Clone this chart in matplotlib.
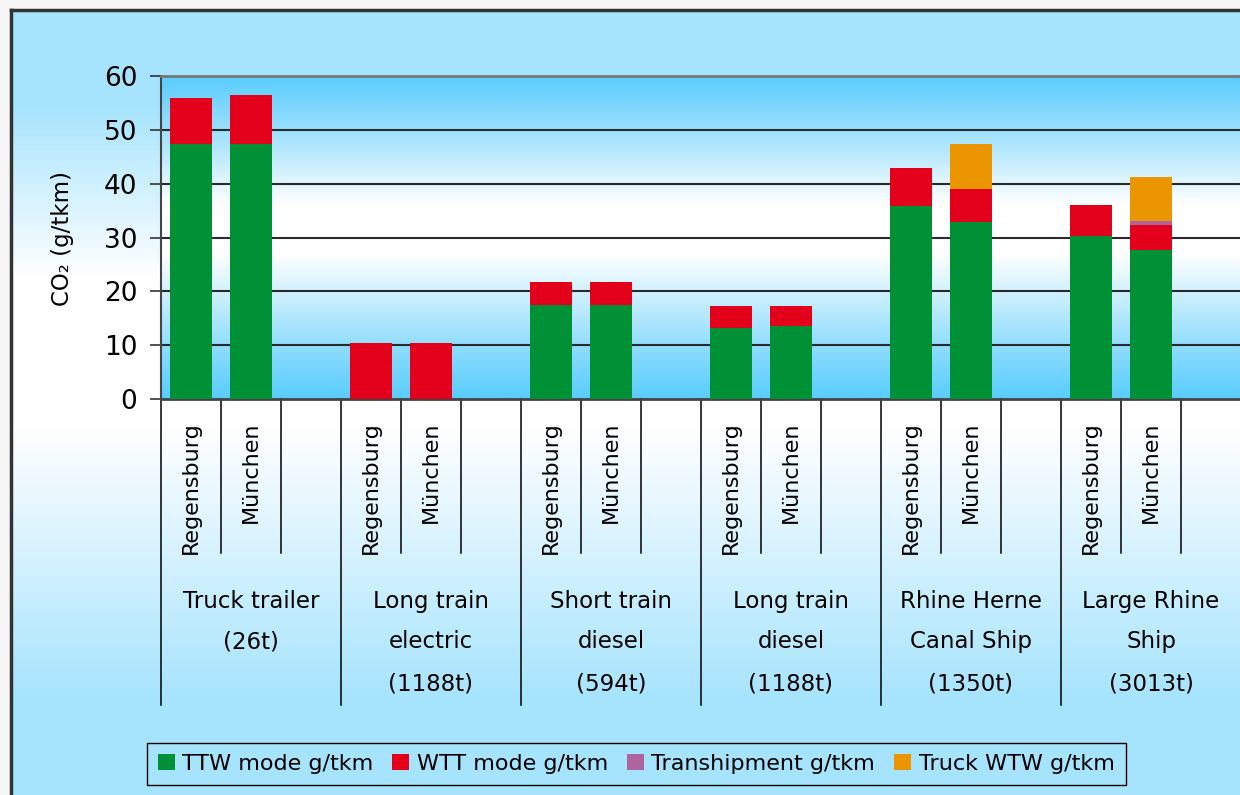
import numpy as np
import matplotlib
matplotlib.use('Agg')
import matplotlib.pyplot as plt
from matplotlib.colors import LinearSegmentedColormap
from matplotlib.patches import Patch
from matplotlib.lines import Line2D
import matplotlib.transforms as mtransforms

# data
groups = ['Truck trailer\n(26t)', 'Long train\nelectric\n(1188t)', 'Short train\ndiesel\n(594t)',
          'Long train\ndiesel\n(1188t)', 'Rhine Herne\nCanal Ship\n(1350t)', 'Large Rhine\nShip\n(3013t)']
cities = ['Regensburg', 'München']

# one value per bar: (group, city) in order
ttw = [47.4, 47.4, 0.0, 0.0, 17.5, 17.5, 13.2, 13.6, 35.9, 32.8, 30.2, 27.6]
wtt = [8.6, 9.0, 10.4, 10.4, 4.3, 4.3, 4.0, 3.6, 7.1, 6.3, 5.9, 4.8]
tranship = [0, 0, 0, 0, 0, 0, 0, 0, 0, 0, 0, 0.6]
truck = [0, 0, 0, 0, 0, 0, 0, 0, 0, 8.2, 0, 8.2]

series_names = ['TTW mode g/tkm', 'WTT mode g/tkm', 'Transhipment g/tkm', 'Truck WTW g/tkm']
colors = ['#009035', '#e2001a', '#b0649f', '#eb9500']

plt.rcParams['font.family'] = 'DejaVu Sans'

fig = plt.figure(figsize=(12.4, 7.95), dpi=100, facecolor='#f7f7f7')

# figure background gradient (blue - white - blue)
x0 = 11 / 1240
y1 = 1 - 10 / 795
bg = fig.add_axes([x0, 0, 1 - x0, y1], zorder=-10)
bg_cmap = LinearSegmentedColormap.from_list('bg', [
    (0.0, '#a6e4fd'), (0.12, '#a6e4fd'), (0.47, '#ffffff'), (0.66, '#ffffff'),
    (0.88, '#a6e4fd'), (1.0, '#a6e4fd')])
bg.imshow(np.linspace(0, 1, 256).reshape(-1, 1), cmap=bg_cmap, aspect='auto',
          origin='lower', extent=[0, 1, 0, 1])
bg.axis('off')

# frame lines
fig.add_artist(Line2D([x0, 1], [y1, y1], color='#333333', lw=2.5))
fig.add_artist(Line2D([x0, x0], [0, y1], color='#333333', lw=2.5))

ax = fig.add_axes([161 / 1240, 1 - 399 / 795, 1080 / 1240, 323 / 795])
ax.patch.set_alpha(0)

plot_cmap = LinearSegmentedColormap.from_list('pl', [
    (0.0, '#5acdfd'), (0.12, '#80d8fd'), (0.45, '#ffffff'), (0.6, '#ffffff'),
    (0.88, '#88dafd'), (1.0, '#5acdfd')])
nslots = 3 * len(groups)
ax.imshow(np.linspace(0, 1, 256).reshape(-1, 1), cmap=plot_cmap, aspect='auto',
          origin='lower', extent=[0, nslots, 0, 60], zorder=0)

# bars
pos = []
for g in range(len(groups)):
    for c in range(len(cities)):
        pos.append(3 * g + c + 0.5)
pos = np.array(pos)
bottom = np.zeros(len(pos))
for vals, col in zip([ttw, wtt, tranship, truck], colors):
    vals = np.array(vals)
    ax.bar(pos, vals, width=0.7, bottom=bottom, color=col, zorder=3)
    bottom += vals

ax.set_xlim(0, nslots)
ax.set_ylim(0, 60)
ax.set_yticks(range(0, 61, 10))
for yv in range(10, 60, 10):
    ax.axhline(yv, color='#2a2a2a', lw=1.5, zorder=1)

ax.spines['right'].set_visible(False)
ax.spines['top'].set_color('#777777')
ax.spines['top'].set_linewidth(2)
ax.spines['left'].set_color('#444444')
ax.spines['left'].set_linewidth(1.5)
ax.spines['bottom'].set_color('#444444')
ax.spines['bottom'].set_linewidth(2)

ax.tick_params(axis='y', length=8, width=1.2, color='#333333', pad=9, labelsize=19)
ax.set_xticks(range(0, nslots + 1))
ax.set_xticklabels([])
ax.tick_params(axis='x', length=0)

# category separators below the axis
trans = mtransforms.blended_transform_factory(ax.transData, ax.transAxes)
for k in range(nslots + 1):
    ylow = -0.947 if k % 3 == 0 else -0.477
    ax.plot([k, k], [0, ylow], color='black', lw=1.1, transform=trans, clip_on=False)

# city labels
for i, p in enumerate(pos):
    ax.text(p, -0.07, cities[i % 2], rotation=90, ha='center', va='top',
            fontsize=16, transform=trans, clip_on=False)

# group labels
line_y = [-0.628, -0.752, -0.882]
for g, name in enumerate(groups):
    for j, line in enumerate(name.split('\n')):
        ax.text(3 * g + 1.5, line_y[j], line, ha='center', va='center',
                fontsize=16.5, transform=trans, clip_on=False)

fig.text(62 / 1240, 1 - 238 / 795, 'CO₂ (g/tkm)', rotation=90, ha='center',
         va='center', fontsize=16.5)

handles = [Patch(facecolor=c, edgecolor='none') for c in colors]
fig.legend(handles, series_names, loc='center', bbox_to_anchor=(0.513, 0.039), ncol=4,
           fontsize=16, handlelength=0.75, handleheight=0.75, handletextpad=0.35,
           columnspacing=0.85, borderpad=0.5, fancybox=False, edgecolor='black',
           facecolor='#a6e4fd', framealpha=1)

fig.savefig('out.png', dpi=100)
